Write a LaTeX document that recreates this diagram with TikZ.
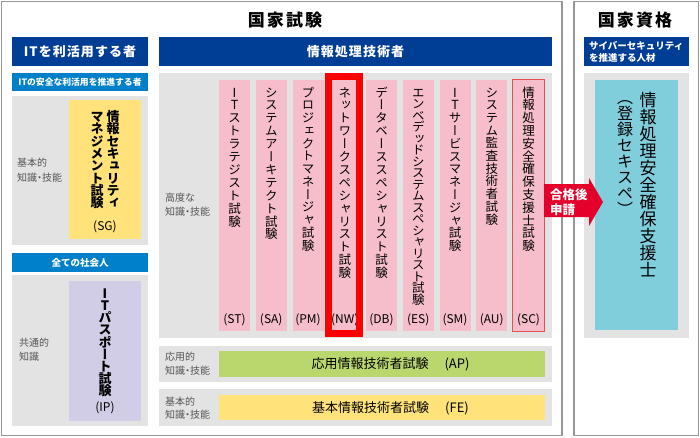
\documentclass[tikz,border=0pt]{standalone}
\usepackage{fontspec}
\setmainfont{Noto Sans CJK JP}
\newfontfamily\tatefont[RawFeature=+vert]{Noto Sans CJK JP}
\newfontfamily\widefont[LetterSpace=8]{Noto Sans CJK JP}
\newfontfamily\titlefont[LetterSpace=12]{Noto Sans CJK JP}
\usetikzlibrary{positioning}

\definecolor{hdrblue}{RGB}{0,62,150}
\definecolor{subblue}{RGB}{0,128,200}
\definecolor{boxgray}{RGB}{227,227,227}
\definecolor{framegray}{RGB}{150,150,150}
\definecolor{exampink}{RGB}{246,190,202}
\definecolor{sgyellow}{RGB}{255,226,122}
\definecolor{iplilac}{RGB}{210,205,230}
\definecolor{apgreen}{RGB}{186,215,110}
\definecolor{riscteal}{RGB}{128,205,220}
\definecolor{passred}{RGB}{228,0,43}
\definecolor{nwred}{RGB}{255,0,0}
\definecolor{scred}{RGB}{230,80,80}
\definecolor{labelgray}{RGB}{85,85,85}

\makeatletter
\newcommand\tate[2]{\vbox{\baselineskip=#1\lineskiplimit=-\maxdimen\lineskip=0pt\expandafter\tate@loop#2\relax}}
\def\tate@loop#1{\ifx\relax#1\else\hbox to 1em{\hss\rule{0pt}{0.88em}#1\hss}\expandafter\tate@loop\fi}
\makeatother
\newcommand\skills{知識{\kern-2.5pt}・{\kern-2.5pt}技能}

\begin{document}
\begin{tikzpicture}[x=1pt,y=-1pt,
    outerframe/.style={draw=framegray,line width=1.5pt},
    bigtitle/.style={inner sep=0pt,font=\titlefont\bfseries\fontsize{17}{20}\selectfont},
    bluehdr/.style={fill=hdrblue,text=white,inner sep=0pt,minimum height=29pt,font=\widefont\bfseries\fontsize{13}{15}\selectfont},
    subhdr/.style={fill=subblue,text=white,inner sep=0pt,minimum width=136pt,font=\bfseries\fontsize{9.5}{11}\selectfont},
    grayarea/.style={fill=boxgray,inner sep=0pt},
    examcol/.style={fill=exampink,minimum width=31pt,minimum height=251pt,inner sep=0pt},
    tatetext/.style={inner sep=0pt,anchor=north,font=\tatefont\fontsize{12.5}{13}\selectfont},
    tatebold/.style={inner sep=0pt,anchor=north,font=\tatefont\bfseries\fontsize{13}{13}\selectfont},
    examcode/.style={inner sep=0pt,font=\fontsize{12}{13}\selectfont},
    bartext/.style={inner sep=0pt,font=\fontsize{13}{15}\selectfont},
    lvl/.style={anchor=west,align=left,inner sep=0pt,text=labelgray,font=\fontsize{10}{14}\selectfont}]
  \useasboundingbox (0,0) rectangle (700,437);
  \draw[outerframe] (1.5,1.5) rectangle (562,435.5);
  \draw[outerframe] (574,1.5) rectangle (698.25,435.5);
  \node[bigtitle] (exams) at (285,20) {国家試験};
  \node[bigtitle] (quals) at (635,20) {国家資格};

  \node[bluehdr,minimum width=136pt] (users) at (80,51.5) {ITを利活用する者};
  \node[bluehdr,minimum width=393pt] (pros) at (355.5,51.5) {情報処理技術者};
  \node[bluehdr,minimum width=105pt,text width=95pt,align=left,font=\bfseries\fontsize{9.5}{12}\selectfont] (cyber) at (636.5,51.5) {サイバーセキュリティ\\を推進する人材};

  \node[subhdr,minimum height=18pt,font=\bfseries\fontsize{8.8}{11}\selectfont] (secusers) at (80,82) {ITの安全な利活用を推進する者};
  \node[grayarea,minimum width=136pt,minimum height=149pt] (sgarea) at (80,170.5) {};
  \node[fill=sgyellow,minimum width=72pt,minimum height=139pt,inner sep=0pt] (sg) at (105,169.5) {};
  \node[tatebold] (sgname) at (113,110) {\tate{12.3pt}{情報セキュリティ}};
  \node[tatebold] (sgname2) at (97,110) {\tate{12.3pt}{マネジメント試験}};
  \node[examcode] (sgcode) at (105,227) {(SG)};
  \node[lvl,font=\fontsize{10}{15}\selectfont] (sglvl) at (17,170) {基本的\\\skills};

  \node[subhdr,minimum height=19pt] (allusers) at (80,262.5) {全ての社会人};
  \node[grayarea,minimum width=136pt,minimum height=151pt] (iparea) at (80,350.5) {};
  \node[fill=iplilac,minimum width=72pt,minimum height=140pt,inner sep=0pt] (ip) at (105,351) {};
  \node[tatebold] (ipname) at (105,287) {\tate{12.1pt}{ITパスポート試験}};
  \node[examcode] (ipcode) at (105,408) {(IP)};
  \node[lvl] (iplvl) at (19,350) {共通的\\知識};

  \node[grayarea,minimum width=393pt,minimum height=265pt] (advarea) at (355.5,205.5) {};
  \node[lvl] (advlvl) at (165,205) {高度な\\\skills};
  \foreach \idx/\cname/\ccode/\cpitch in {0/ITストラテジスト試験/ST/12.9,
      1/システムアーキテクト試験/SA/12.9, 2/プロジェクトマネージャ試験/PM/12.75,
      3/ネットワークスペシャリスト試験/NW/12.9, 4/データベーススペシャリスト試験/DB/12.9,
      5/エンベデッドシステムスペシャリスト試験/ES/11.5, 6/ITサービスマネージャ試験/SM/12.8,
      7/システム監査技術者試験/AU/12.7, 8/情報処理安全確保支援士試験/SC/12.8}
  {
    \node[examcol] (col\ccode) at ({234.5+36.75*\idx},205.5) {};
    \node[tatetext] (name\ccode) at ([yshift=-6pt]col\ccode.north) {\tate{\cpitch pt}{\cname}};
    \node[examcode] (code\ccode) at ([yshift=11pt]col\ccode.south) {(\ccode)};
  }
  \draw[nwred,line width=7pt] ([xshift=-1pt,yshift=3.5pt]colNW.north west) rectangle ([xshift=-0.75pt,yshift=-2.5pt]colNW.south east);
  \draw[scred,line width=1.2pt] (colSC.north west) rectangle (colSC.south east);

  \node[grayarea,minimum width=393pt,minimum height=36pt] (aparea) at (355.5,364) {};
  \node[fill=apgreen,minimum width=326pt,minimum height=26pt,inner sep=0pt] (ap) at (382,364) {};
  \node[bartext] (apname) at (390.5,364.5) {応用情報技術者試験\hspace{16pt}(AP)};
  \node[lvl,font=\fontsize{10}{13.5}\selectfont] (aplvl) at (165,363.5) {応用的\\\skills};

  \node[grayarea,minimum width=393pt,minimum height=37pt] (fearea) at (355.5,407.5) {};
  \node[fill=sgyellow,minimum width=326pt,minimum height=25pt,inner sep=0pt] (fe) at (382,407.5) {};
  \node[bartext] (fename) at (390.5,408) {基本情報技術者試験\hspace{16pt}(FE)};
  \node[lvl,font=\fontsize{10}{13.5}\selectfont] (felvl) at (165,408) {基本的\\\skills};

  \node[grayarea,minimum width=105pt,minimum height=265pt] (riscarea) at (636.5,205.5) {};
  \node[fill=riscteal,minimum width=83pt,minimum height=250pt,inner sep=0pt] (risc) at (636.5,205) {};
  \node[tatetext,font=\tatefont\fontsize{17}{17}\selectfont] (riscname) at (648,91) {\tate{17pt}{情報処理安全確保支援士}};
  \node[tatetext,font=\tatefont\fontsize{16}{16}\selectfont] (riscnick) at (625,89) {\tate{16pt}{（登録セキスペ）}};

  \fill[passred] (544,184) -- (589,184) -- (589,178) -- (603,202) -- (589,226) -- (589,217) -- (544,217) -- cycle;
  \node[anchor=west,align=left,text=white,inner sep=0pt,font=\bfseries\fontsize{12.5}{15}\selectfont] (passnote) at (550,202) {合格後\\申請};
\end{tikzpicture}
\end{document}
